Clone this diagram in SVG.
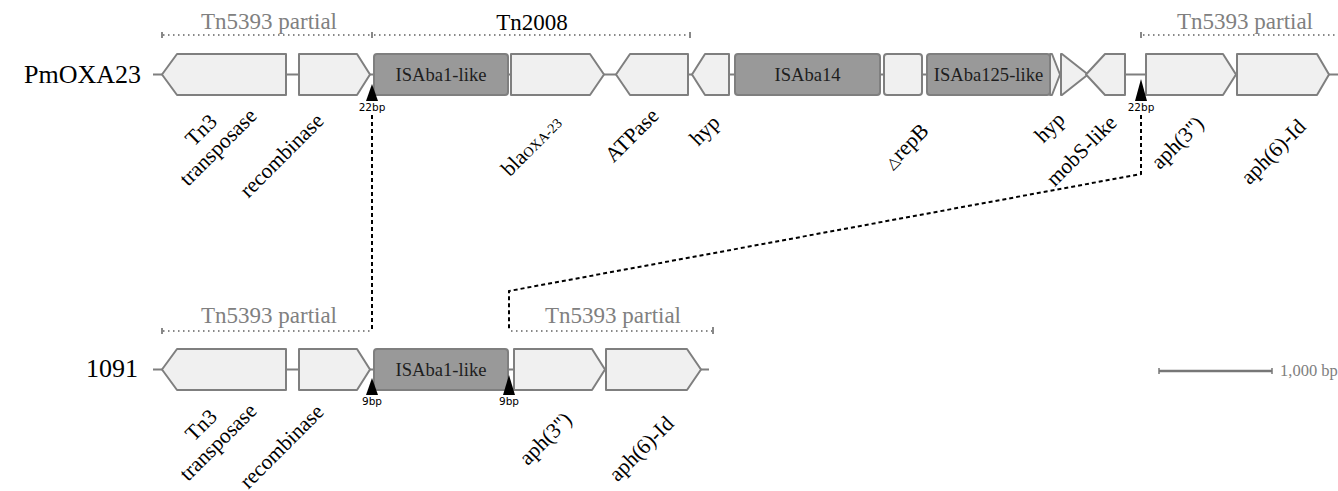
<svg xmlns="http://www.w3.org/2000/svg" width="1338" height="491" viewBox="0 0 1338 491">
<defs>
<style>
.bg{fill:#ffffff}
.bb{stroke:#7f7f7f;stroke-width:2;fill:none}
.gene{fill:#f0f0f0;stroke:#7f7f7f;stroke-width:2;stroke-linejoin:round}
.is{fill:#999999;stroke:#7f7f7f;stroke-width:2}
.istxt{font-family:"Liberation Serif",serif;font-size:18.6px;fill:#1e1e1e;text-anchor:middle}
.lbl{font-family:"Liberation Serif",serif;font-size:21.5px;fill:#000}
.gray{font-family:"Liberation Serif",serif;font-size:23px;fill:#808080;text-anchor:middle}
.blk{font-family:"Liberation Serif",serif;font-size:23px;fill:#000;text-anchor:middle}
.name{font-family:"Liberation Serif",serif;font-size:26px;fill:#000}
.dot{stroke:#888;stroke-width:2;stroke-dasharray:1.5 3.5;fill:none}
.tick{stroke:#888;stroke-width:2}
.tri{fill:#000}
.bp{font-family:"DejaVu Sans",sans-serif;font-size:10.5px;fill:#000;text-anchor:middle}
.conn{stroke:#000;stroke-width:2;stroke-dasharray:4 3;fill:none}
</style>
</defs>
<rect class="bg" x="0" y="0" width="1338" height="491"/>

<g id="row-PmOXA23">
<text class="name" x="24" y="83">PmOXA23</text>
<line class="bb" x1="153" y1="74.5" x2="1338" y2="74.5"/>
</g>

<g id="ann-top-tn5393-left">
<text class="gray" x="269" y="29">Tn5393 partial</text>
<line class="dot" x1="163" y1="35" x2="372" y2="35"/>
<line class="tick" x1="162" y1="32" x2="162" y2="38"/>
<line class="tick" x1="372" y1="32" x2="372" y2="38"/>
</g>
<g id="ann-top-tn2008">
<text class="blk" x="532" y="30">Tn2008</text>
<line class="dot" x1="374" y1="35" x2="689" y2="35"/>
<line class="tick" x1="690" y1="32" x2="690" y2="38"/>
</g>
<g id="ann-top-tn5393-right">
<text class="gray" x="1245" y="29">Tn5393 partial</text>
<line class="dot" x1="1143" y1="35" x2="1338" y2="35"/>
<line class="tick" x1="1141" y1="32" x2="1141" y2="38"/>
</g>

<g id="t-tn3">
<polygon class="gene" points="162,74.5 177,54 286,54 286,95 177,95"/>
<g transform="translate(258,117) rotate(-45)"><text class="lbl" text-anchor="middle"><tspan x="-49.5" y="-24">Tn3</tspan><tspan x="-49.5" y="0">transposase</tspan></text></g>
</g>
<g id="t-recombinase">
<polygon class="gene" points="299,54 357,54 370,74.5 357,95 299,95"/>
<g transform="translate(325,122) rotate(-45)"><text class="lbl" text-anchor="end">recombinase</text></g>
</g>
<g id="t-isaba1">
<rect class="is" x="374" y="54" width="134" height="41" rx="3"/>
<text class="istxt" x="441" y="81">ISAba1-like</text>
</g>
<g id="t-blaoxa23">
<polygon class="gene" points="511,54 590,54 604,74.5 590,95 511,95"/>
<g transform="translate(563,124) rotate(-45)"><text class="lbl" text-anchor="end">bla<tspan font-size="14">OXA-23</tspan></text></g>
</g>
<g id="t-atpase">
<polygon class="gene" points="616,74.5 630,54 688,54 688,95 630,95"/>
<g transform="translate(660,117) rotate(-45)"><text class="lbl" text-anchor="end">ATPase</text></g>
</g>
<g id="t-hyp1">
<polygon class="gene" points="692,74.5 705,54 729,54 729,95 705,95"/>
<g transform="translate(721,124) rotate(-45)"><text class="lbl" text-anchor="end">hyp</text></g>
</g>
<g id="t-isaba14">
<rect class="is" x="735" y="54" width="145" height="41" rx="3"/>
<text class="istxt" x="807.5" y="81">ISAba14</text>
</g>
<g id="t-reprb">
<rect class="gene" x="884" y="54" width="38" height="41" rx="3"/>
<g transform="translate(930,132) rotate(-45)"><text class="lbl" text-anchor="end"><tspan font-size="15">△</tspan>repB</text></g>
</g>
<g id="t-isaba125">
<rect class="is" x="927" y="54" width="123" height="41" rx="3"/>
<text class="istxt" x="988.5" y="81">ISAba125-like</text>
</g>
<g id="t-hyp2">
<polygon class="gene" points="1050,54 1052,54 1060,74.5 1052,95 1050,95"/>
<g transform="translate(1066,121) rotate(-45)"><text class="lbl" text-anchor="end">hyp</text></g>
</g>
<g id="t-orf">
<polygon class="gene" points="1061,54 1062,54 1088,74.5 1062,95 1061,95"/>
</g>
<g id="t-mobs">
<polygon class="gene" points="1086,74.5 1105,54 1125,54 1125,95 1105,95"/>
<g transform="translate(1118,124) rotate(-45)"><text class="lbl" text-anchor="end">mobS-like</text></g>
</g>
<g id="t-aph3">
<polygon class="gene" points="1146,54 1223,54 1236,74.5 1223,95 1146,95"/>
<g transform="translate(1205,125) rotate(-45)"><text class="lbl" text-anchor="end">aph(3'')</text></g>
</g>
<g id="t-aph6">
<polygon class="gene" points="1237,54 1317,54 1329,74.5 1317,95 1237,95"/>
<g transform="translate(1307,128) rotate(-45)"><text class="lbl" text-anchor="end">aph(6)-Id</text></g>
</g>
<g id="t-tsd1">
<polygon class="tri" points="372,84 366,101 378,101"/>
<text class="bp" x="372" y="111">22bp</text>
</g>
<g id="t-tsd2">
<polygon class="tri" points="1141,79 1135,101 1147,101"/>
<text class="bp" x="1141" y="111">22bp</text>
</g>

<g id="row-1091">
<text class="name" x="86" y="377">1091</text>
<line class="bb" x1="153" y1="369.5" x2="709" y2="369.5"/>
</g>
<g id="ann-bot-tn5393-left">
<text class="gray" x="269" y="323">Tn5393 partial</text>
<line class="dot" x1="163" y1="331" x2="371" y2="331"/>
<line class="tick" x1="162" y1="328" x2="162" y2="334"/>
</g>
<g id="ann-bot-tn5393-right">
<text class="gray" x="613" y="323">Tn5393 partial</text>
<line class="dot" x1="511" y1="331" x2="712" y2="331"/>
<line class="tick" x1="713" y1="327" x2="713" y2="334"/>
</g>
<g id="b-tn3">
<polygon class="gene" points="162,369.5 177,349 286,349 286,390 177,390"/>
<g transform="translate(258,412) rotate(-45)"><text class="lbl" text-anchor="middle"><tspan x="-49.5" y="-24">Tn3</tspan><tspan x="-49.5" y="0">transposase</tspan></text></g>
</g>
<g id="b-recombinase">
<polygon class="gene" points="299,349 357,349 370,369.5 357,390 299,390"/>
<g transform="translate(325,413) rotate(-45)"><text class="lbl" text-anchor="end">recombinase</text></g>
</g>
<g id="b-isaba1">
<rect class="is" x="374" y="349" width="134" height="41" rx="3"/>
<text class="istxt" x="441" y="376">ISAba1-like</text>
</g>
<g id="b-aph3">
<polygon class="gene" points="514,349 592,349 605,369.5 592,390 514,390"/>
<g transform="translate(573,421) rotate(-45)"><text class="lbl" text-anchor="end">aph(3'')</text></g>
</g>
<g id="b-aph6">
<polygon class="gene" points="606,349 687,349 701,369.5 687,390 606,390"/>
<g transform="translate(675,425) rotate(-45)"><text class="lbl" text-anchor="end">aph(6)-Id</text></g>
</g>
<g id="b-tsd1">
<polygon class="tri" points="372,378 366,395 378,395"/>
<text class="bp" x="372" y="405">9bp</text>
</g>
<g id="b-tsd2">
<polygon class="tri" points="509,375 503,395 515,395"/>
<text class="bp" x="509" y="405">9bp</text>
</g>

<g id="connectors">
<path class="conn" d="M372,115 V331"/>
<path class="conn" d="M1141,115 V174 L509,291 V331"/>
</g>

<g id="scale-bar">
<line x1="1159" y1="371" x2="1272" y2="371" stroke="#777" stroke-width="2.5"/>
<line x1="1159" y1="368" x2="1159" y2="374" stroke="#777" stroke-width="1.5"/>
<line x1="1272" y1="368" x2="1272" y2="374" stroke="#777" stroke-width="1.5"/>
<text x="1280" y="376" font-family="Liberation Serif,serif" font-size="16.5" fill="#808080">1,000 bp</text>
</g>
</svg>
